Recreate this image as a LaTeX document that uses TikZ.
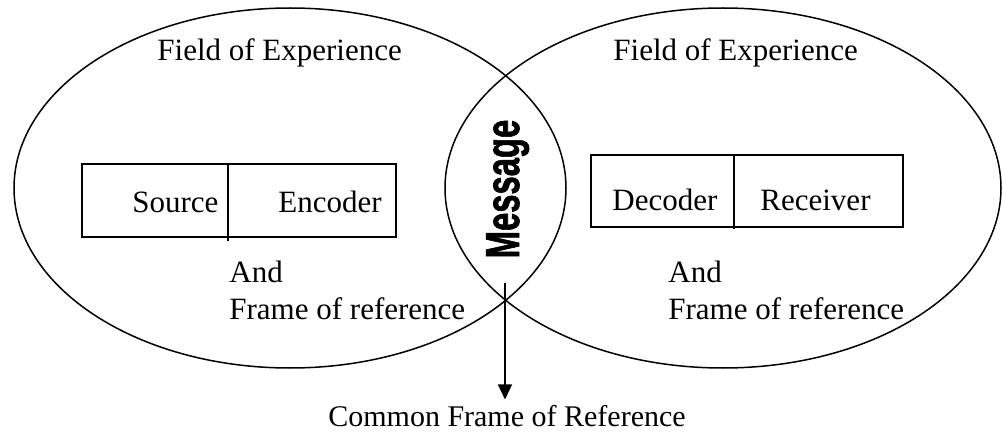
\documentclass[tikz,border=0pt]{standalone}
\usepackage{fontspec}
\usepackage{graphicx}
\setmainfont{Liberation Serif}
\newfontfamily\msgfont[FakeBold=1.8]{Liberation Sans Bold}
\usetikzlibrary{shapes.geometric,arrows.meta}
\begin{document}
\begin{tikzpicture}[x=0.5pt,y=-0.5pt,
  field/.style={ellipse,draw,line width=0.75pt,inner sep=0pt},
  txt/.style={anchor=base west,inner sep=0pt,font=\fontsize{15.5}{18}\selectfont},
  boxline/.style={line width=0.75pt},
  msg/.style={rotate=90,anchor=base,inner sep=0pt,font=\msgfont\fontsize{23.75}{28}\selectfont},
  pointer/.style={line width=0.75pt,-{Triangle[length=7.5pt,width=7pt]}}]
\useasboundingbox (0,0) rectangle (1003,433);
% fields of experience
\node[field,minimum width=276pt,minimum height=180pt] (leftfield) at (290,188) {};
\node[field,minimum width=278pt,minimum height=180pt] (rightfield) at (723,188) {};
\node[txt] (fe1) at (157,61) {Field of Experience};
\node[txt] (fe2) at (613,61) {Field of Experience};
% left box
\draw[boxline] (82,164) rectangle (396,237);
\draw[boxline] (228,164) -- (228,241);
\node[txt] (src) at (132,213) {Source};
\node[txt] (enc) at (278,213) {Encoder};
% right box
\draw[boxline] (591,155) rectangle (903,227);
\draw[boxline] (734,155) -- (734,229);
\node[txt] (dec) at (612,211) {Decoder};
\node[txt] (rec) at (760,211) {Receiver};
% frames of reference
\node[txt] (and1) at (229,283) {And};
\node[txt] (ref1) at (229,320) {Frame of reference};
\node[txt] (and2) at (668,283) {And};
\node[txt] (ref2) at (668,320) {Frame of reference};
% message
\node[msg] (message) at (519,189) {\scalebox{0.69}[1]{Message}};
% common frame
\node[anchor=base,inner sep=0pt,font=\fontsize{15}{18}\selectfont] (common) at (507,426) {Common Frame of Reference};
\coordinate (start) at (505,283);
\draw[pointer] (start) -- ([yshift=2.5pt]start |- common.north);
\end{tikzpicture}
\end{document}
